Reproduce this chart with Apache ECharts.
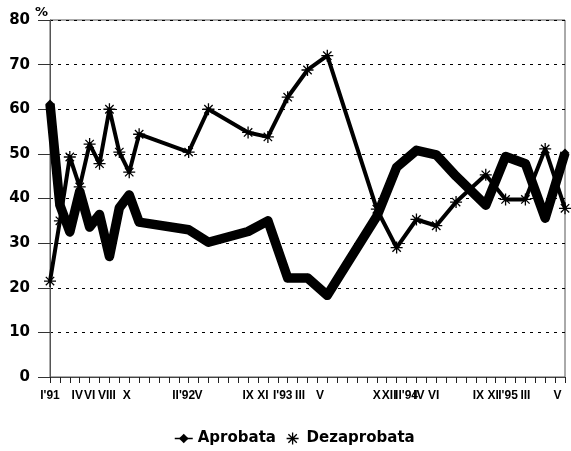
<!DOCTYPE html>
<html>
<head>
<meta charset="utf-8">
<script src="https://cdn.jsdelivr.net/npm/echarts@6/dist/echarts.min.js"></script>
<style>
  html, body { margin: 0; padding: 0; background: #fff; }
  #chart { width: 571px; height: 451px; }
</style>
</head>
<body>
<div id="chart"></div>
<script>
// month slots on the x axis (I'91 .. V'95), one tick each
const monthCount = 53
// where the tick labels sit (in month slots) and what they say
const labelPos = [0, 2.75, 4, 5.75, 7.75, 13.5, 15, 20, 21.5, 23.5, 25.25, 27.25, 33, 34.25, 36, 37.25, 38.75,
  43.25, 44.75, 46.25, 48, 51.25]
const labelText = ["I'91", 'IV', 'VI', 'VIII', 'X', "II'92", 'V', 'IX', 'XI', "I'93", 'III', 'V',
  'X', 'XII', "II'94", 'IV', 'VI', 'IX', 'XI', "I'95", 'III', 'V']
// survey months (slot index) and the two series
const surveyPos = [0, 1, 2, 3, 4, 5, 6, 7, 8, 9, 14, 16, 20, 22, 24, 26, 28, 33, 35, 37, 39, 41, 44, 46, 48, 50, 52]
const aprobata = [61.2, 38.5, 32.5, 41.6, 33.6, 36.4, 27, 37.9, 40.8, 34.7, 33, 30.2, 32.6, 35, 22.2, 22.2, 18.3,
  36, 47, 50.8, 49.8, 45, 38.5, 49.4, 47.8, 35.6, 50.2]
const dezaprobata = [21.5, 35, 49.3, 42.6, 52.2, 47.8, 60, 50.4, 45.9, 54.4, 50.4, 60, 54.8, 53.8, 62.7, 68.8, 72,
  37.6, 29, 35.3, 33.9, 39.2, 45.3, 39.8, 39.8, 51.1, 37.8]

const starPath = 'path://M0,-10L0,10M-10,0L10,0M-7,-7L7,7M-7,7L7,-7'
const font = 'DejaVu Sans, sans-serif'
const tickFont = 'Liberation Sans, Arial, sans-serif'

function initChart() {
  const chart = echarts.init(document.getElementById('chart'))

  const categories = []
  for (let i = 0; i < monthCount; i++) categories.push(String(i))

  const tickText = {}
  labelPos.forEach((p, i) => { tickText[Math.round(p * 4)] = labelText[i] })

  const aprData = surveyPos.map((p, i) => [p, aprobata[i]])
  const dezData = surveyPos.map((p, i) => [p, dezaprobata[i]])

  const option = {
    animation: false,
    backgroundColor: '#fff',
    // unit label above the value axis
    title: {
      text: '%',
      left: 35,
      top: 6,
      padding: 0,
      textStyle: { fontFamily: font, fontWeight: 'bold', fontSize: 13, color: '#000' }
    },
    grid: {
      left: 50,
      right: 6,
      top: 20,
      bottom: 74,
      show: true,
      borderColor: '#555',
      borderWidth: 1
    },
    legend: {
      bottom: 0,
      left: 169,
      itemWidth: 18,
      itemHeight: 12,
      itemGap: 10,
      textStyle: { fontFamily: font, fontWeight: 'bold', fontSize: 15, color: '#000' },
      data: [
        { name: 'Aprobata', lineStyle: { width: 1.5 } },
        { name: 'Dezaprobata', icon: starPath, itemStyle: { color: '#000', borderColor: '#000', borderWidth: 1.3 } }
      ]
    },
    xAxis: [
      {
        type: 'category',
        boundaryGap: false,
        data: categories,
        axisLine: { lineStyle: { color: '#444', width: 1 } },
        axisTick: { show: true, interval: 0, length: 6, lineStyle: { color: '#222', width: 1 } },
        axisLabel: { show: true, interval: 0, formatter: () => '' },
        splitLine: { show: false }
      },
      {
        // label-only axis, so labels can sit between month ticks like the original
        type: 'value',
        position: 'bottom',
        min: 0,
        max: monthCount - 1,
        interval: 0.25,
        axisLine: { show: false },
        axisTick: { show: false },
        splitLine: { show: false },
        axisLabel: {
          margin: 13,
          hideOverlap: false,
          fontFamily: tickFont,
          fontWeight: 'bold',
          fontSize: 12,
          color: '#000',
          formatter: v => tickText[Math.round(v * 4)] || ''
        }
      }
    ],
    yAxis: {
      type: 'value',
      min: 0,
      max: 80,
      interval: 10,
      axisLine: { show: true, lineStyle: { color: '#555', width: 1 } },
      axisTick: { show: true, length: 12, lineStyle: { color: '#333' } },
      axisLabel: { margin: 20, fontFamily: font, fontWeight: 'bold', fontSize: 15, color: '#000' },
      splitLine: { show: true, lineStyle: { color: '#000', type: [3, 5], width: 1 } }
    },
    series: [
      {
        name: 'Aprobata',
        type: 'line',
        data: aprData,
        symbol: 'diamond',
        symbolSize: 9,
        showSymbol: true,
        itemStyle: { color: '#000' },
        lineStyle: { color: '#000', width: 9.5, join: 'round', cap: 'butt' },
        z: 2
      },
      {
        name: 'Dezaprobata',
        type: 'line',
        data: dezData,
        symbol: starPath,
        symbolSize: 12,
        showSymbol: true,
        itemStyle: { color: '#000', borderColor: '#000', borderWidth: 1.3 },
        lineStyle: { color: '#000', width: 4, join: 'round' },
        z: 3
      }
    ]
  }

  chart.setOption(option)
}

initChart()
</script>
</body>
</html>
